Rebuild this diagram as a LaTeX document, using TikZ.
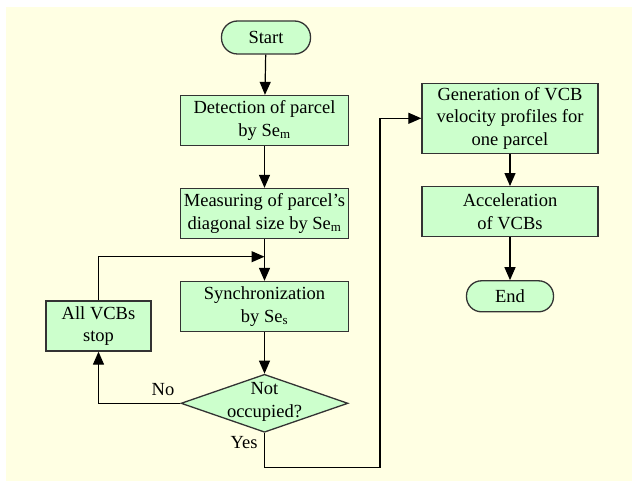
\documentclass[tikz,border=0pt]{standalone}
\usepackage{fontspec}
\setmainfont{Liberation Serif}
\usetikzlibrary{arrows.meta,shapes.geometric}
\definecolor{cream}{HTML}{FFFFE3}
\definecolor{boxgreen}{HTML}{CCFFCC}
\definecolor{edge}{HTML}{333333}
\begin{document}
\begin{tikzpicture}[x=1pt,y=-1pt,
  font=\fontsize{18.5}{22.5}\selectfont,
  proc/.style={draw=edge, line width=1.3pt, fill=boxgreen, inner sep=0pt, align=center, minimum width=168pt, minimum height=50pt},
  term/.style={draw=edge, line width=1.3pt, fill=boxgreen, inner sep=0pt, rounded corners=16pt, minimum width=89pt, minimum height=33pt},
  dec/.style={draw=edge, line width=1.3pt, fill=boxgreen, diamond, inner sep=0pt, minimum width=167pt, minimum height=58pt},
  lbl/.style={inner sep=0pt, align=center},
  arr/.style={draw=black, line width=1.2pt, -{Triangle[length=13pt,width=11pt]}}]
\useasboundingbox (0,0) rectangle (632,481);
\fill[cream] (6,7) rectangle (632,481);

\node[term] (start) at (266,37.5) {Start};
\node[proc] (det) at (264.5,120.5) {Detection of parcel\\by Se\textsubscript{m}};
\node[proc] (meas) at (264.5,213.5) {Measuring of parcel's\\diagonal size by Se\textsubscript{m}};
\node[proc] (sync) at (264.5,306.5) {Synchronization\\by Se\textsubscript{s}};
\node[proc, minimum width=105pt] (stop) at (98.5,326) {All VCBs\\stop};
\node[dec] (dec) at (264.5,403.3) {};
\node[lbl] (dectext) at (264.5,402) {Not\\occupied?};
\node[proc, minimum width=176pt, minimum height=70pt] (gen) at (510,118.3) {Generation of VCB\\velocity profiles for\\one parcel};
\node[proc, minimum width=176pt] (acc) at (510,211.7) {Acceleration\\of VCBs};
\node[term, minimum width=87pt, minimum height=31pt, rounded corners=15pt] (end) at (510,296.3) {End};
\node[lbl] (no) at (163,390) {No};
\node[lbl] (yes) at (244,443) {Yes};

\coordinate (j) at (264.5,256.7);
\coordinate (y1) at (264.5,467.7);
\coordinate (y2) at (380,467.7);

\draw[arr] (start) -- (det);
\draw[arr] (det) -- (meas);
\draw[arr] (meas) -- (sync);
\draw[arr] (stop.north) |- (j);
\draw[arr] (sync) -- (dec);
\draw[arr] (dec.west) -| (stop.south);
\draw[arr] (dec.south) -- (y1) -- (y2) |- (gen.west);
\draw[arr] (gen) -- (acc);
\draw[arr] (acc) -- (end);
\end{tikzpicture}
\end{document}
